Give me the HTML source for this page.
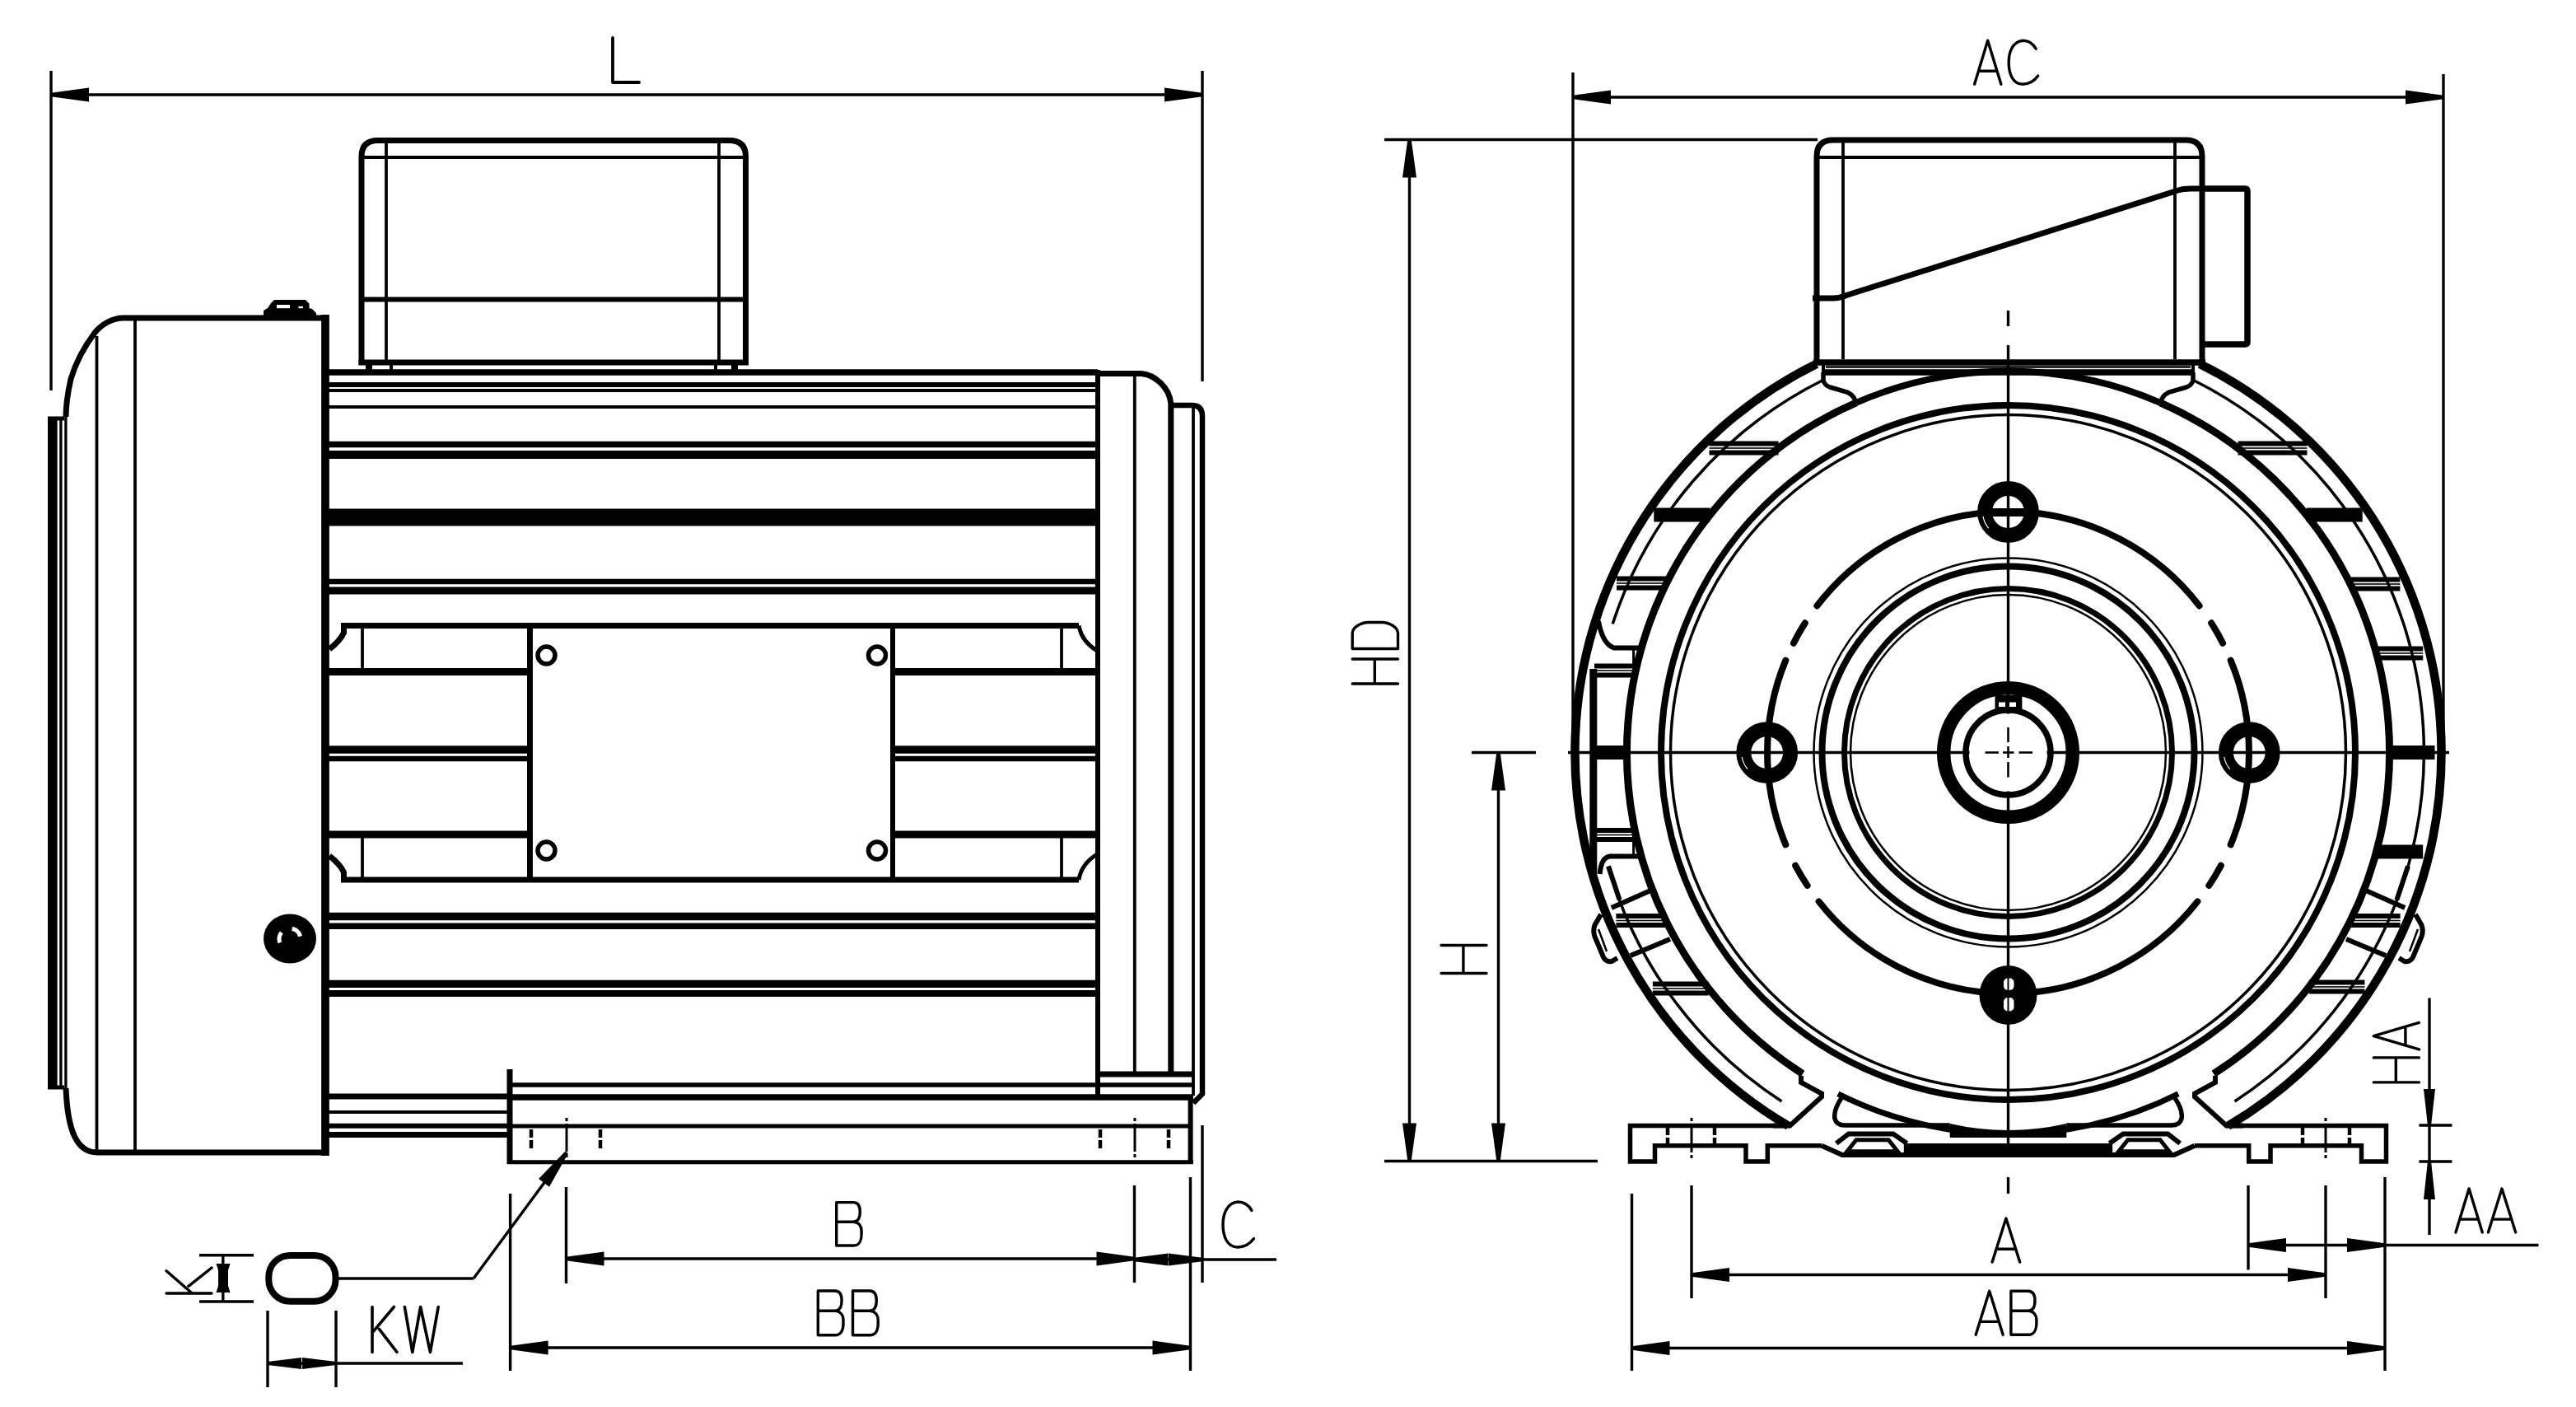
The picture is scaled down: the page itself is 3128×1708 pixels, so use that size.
<!DOCTYPE html>
<html><head><meta charset="utf-8"><style>
html,body{margin:0;padding:0;background:#fff;width:3128px;height:1708px;overflow:hidden;font-family:"Liberation Sans",sans-serif}
svg{display:block}
</style></head><body>
<svg width="3128" height="1708" viewBox="0 0 3128 1708" stroke="#000" fill="none"><line x1="62" y1="86" x2="62" y2="474" stroke-width="3.4"/>
<line x1="1460" y1="86" x2="1460" y2="463" stroke-width="3.4"/>
<line x1="62" y1="115" x2="1460" y2="115" stroke-width="3.4"/>
<path d="M62 112.8 L108 106.5 L108 123.5 L62 117.2 Z" fill="#000" stroke="none"/>
<path d="M1460 117.2 L1414 123.5 L1414 106.5 L1460 112.8 Z" fill="#000" stroke="none"/>
<g transform="translate(744 46)" stroke-width="3.8" fill="none" stroke-linejoin="round" stroke-linecap="round"><path transform="translate(0 0)" d="M0 0V54 H32"/></g>
<path d="M439 443 V190 Q439 170.5 459 170.5 H885.5 Q905.5 170.5 905.5 190 V443" stroke-width="7" fill="none"/>
<line x1="435.5" y1="440" x2="909" y2="440" stroke-width="7"/>
<line x1="469" y1="173" x2="469" y2="437" stroke-width="3.8"/>
<line x1="873" y1="173" x2="873" y2="437" stroke-width="3.8"/>
<line x1="439" y1="191" x2="905.5" y2="191" stroke-width="3.8"/>
<line x1="439" y1="363.5" x2="905.5" y2="363.5" stroke-width="6"/>
<rect x="444" y="443" width="8" height="7" stroke="none" fill="#000"/>
<rect x="473" y="443" width="4" height="7" stroke="none" fill="#000"/>
<rect x="867" y="443" width="4" height="7" stroke="none" fill="#000"/>
<rect x="888" y="443" width="8" height="7" stroke="none" fill="#000"/>
<path d="M395 386 H150 C136 386 123 394 115 404 C103 420 92 440 86 460 C82 478 80 495 80 506" stroke-width="7" fill="none"/>
<path d="M80 1321 C82 1370 92 1399 118 1399 H395" stroke-width="7" fill="none"/>
<line x1="395" y1="382" x2="395" y2="1403" stroke-width="9.7"/>
<line x1="58" y1="508" x2="78" y2="508" stroke-width="5"/>
<line x1="58" y1="1320" x2="78" y2="1320" stroke-width="5"/>
<line x1="63.8" y1="507" x2="63.8" y2="1321" stroke-width="11.6"/>
<line x1="73.9" y1="508" x2="73.9" y2="1320" stroke-width="3.3"/>
<line x1="79.9" y1="505" x2="79.9" y2="1322" stroke-width="3.3"/>
<line x1="117.5" y1="408" x2="117.5" y2="1396" stroke-width="3.8"/>
<line x1="164" y1="389" x2="164" y2="1396" stroke-width="3.8"/>
<path d="M320 389 V377 L325 374 L329 368 L333 364 H371 L375.5 368.6 V374 L379 375 L384 380 V389 Z" fill="#000" stroke="none"/>
<rect x="336" y="370" width="16" height="4.2" fill="#fff" stroke="none"/>
<rect x="362.4" y="371.9" width="5.6" height="2.3" fill="#fff" stroke="none"/>
<ellipse cx="352" cy="1139.5" rx="32" ry="30" fill="#000" stroke="none"/>
<path d="M339.8 1144.4 A13 13 0 0 1 341.8 1132" stroke="#fff" stroke-width="5" fill="none"/>
<path d="M354.7 1127.3 A13 13 0 0 1 364.6 1136.6" stroke="#fff" stroke-width="5" fill="none"/>
<line x1="397" y1="452" x2="1333" y2="452" stroke-width="7.5"/>
<line x1="397" y1="467" x2="1333" y2="467" stroke-width="6"/>
<line x1="397" y1="474" x2="1333" y2="474" stroke-width="4"/>
<line x1="397" y1="494" x2="1333" y2="494" stroke-width="4"/>
<line x1="397" y1="539.5" x2="1333" y2="539.5" stroke-width="7.5"/>
<line x1="397" y1="552" x2="1333" y2="552" stroke-width="10"/>
<line x1="397" y1="628" x2="1333" y2="628" stroke-width="21"/>
<line x1="397" y1="706" x2="1333" y2="706" stroke-width="6.5"/>
<line x1="397" y1="717" x2="1333" y2="717" stroke-width="9"/>
<line x1="397" y1="1112.5" x2="1333" y2="1112.5" stroke-width="9.7"/>
<line x1="397" y1="1124.2" x2="1333" y2="1124.2" stroke-width="7.4"/>
<line x1="397" y1="1194.4" x2="1333" y2="1194.4" stroke-width="9.2"/>
<line x1="397" y1="1206" x2="1333" y2="1206" stroke-width="7.8"/>
<line x1="397" y1="815.5" x2="643" y2="815.5" stroke-width="9"/>
<line x1="1084" y1="815.5" x2="1333" y2="815.5" stroke-width="9"/>
<line x1="397" y1="910" x2="643" y2="910" stroke-width="9.5"/>
<line x1="1084" y1="910" x2="1333" y2="910" stroke-width="9.5"/>
<line x1="397" y1="921" x2="643" y2="921" stroke-width="6.5"/>
<line x1="1084" y1="921" x2="1333" y2="921" stroke-width="6.5"/>
<line x1="397" y1="1013" x2="643" y2="1013" stroke-width="9"/>
<line x1="1084" y1="1013" x2="1333" y2="1013" stroke-width="9"/>
<line x1="619" y1="1317" x2="1449" y2="1317" stroke-width="5"/>
<line x1="619" y1="1332" x2="1449" y2="1332" stroke-width="7.5"/>
<line x1="397" y1="1331" x2="619" y2="1331" stroke-width="7"/>
<line x1="397" y1="1350" x2="619" y2="1350" stroke-width="4"/>
<line x1="397" y1="1366.7" x2="619" y2="1366.7" stroke-width="6"/>
<line x1="397" y1="1377.5" x2="619" y2="1377.5" stroke-width="7"/>
<path d="M400 788 Q413 778 417.5 768 V759.5 H1310" stroke-width="7" fill="none"/>
<path d="M1310 759.5 Q1313 778 1332 790" stroke-width="5" fill="none"/>
<path d="M400 1039 Q413 1049 417.5 1059 V1068 H1310" stroke-width="7" fill="none"/>
<path d="M1310 1068 Q1313 1049 1332 1037" stroke-width="5" fill="none"/>
<line x1="440" y1="762" x2="440" y2="811" stroke-width="3.8"/>
<line x1="440" y1="1016" x2="440" y2="1066" stroke-width="3.8"/>
<line x1="1289" y1="762" x2="1289" y2="811" stroke-width="3.8"/>
<line x1="1289" y1="1016" x2="1289" y2="1066" stroke-width="3.8"/>
<line x1="643.5" y1="756" x2="643.5" y2="1071" stroke-width="7"/>
<line x1="1084" y1="756" x2="1084" y2="1071" stroke-width="6"/>
<circle cx="663.5" cy="795.5" r="10.5" stroke-width="5.5" fill="none"/>
<circle cx="1065" cy="795.5" r="10.5" stroke-width="5.5" fill="none"/>
<circle cx="663.5" cy="1032.5" r="10.5" stroke-width="5.5" fill="none"/>
<circle cx="1065" cy="1032.5" r="10.5" stroke-width="5.5" fill="none"/>
<line x1="1333" y1="449" x2="1333" y2="1335" stroke-width="6"/>
<line x1="1377.8" y1="455" x2="1377.8" y2="1301" stroke-width="3.8"/>
<path d="M1333 453.5 H1386 C1402 455 1420 470 1421.8 490 V1304" stroke-width="7" fill="none"/>
<path d="M1421.8 492 H1447 Q1460 492 1460 505 V1328 L1449 1339" stroke-width="6.5" fill="none"/>
<line x1="1449" y1="494" x2="1449" y2="1330" stroke-width="3.8"/>
<line x1="1333" y1="1304" x2="1449" y2="1304" stroke-width="7"/>
<line x1="619" y1="1298" x2="619" y2="1413" stroke-width="7"/>
<line x1="619" y1="1317" x2="1449" y2="1317" stroke-width="5"/>
<line x1="619" y1="1367" x2="1445.6" y2="1367" stroke-width="5"/>
<line x1="616" y1="1410.7" x2="1448.8" y2="1410.7" stroke-width="5"/>
<line x1="1445.6" y1="1332" x2="1445.6" y2="1413" stroke-width="6"/>
<line x1="645" y1="1371" x2="645" y2="1381" stroke-width="4.5"/>
<line x1="645" y1="1384" x2="645" y2="1394" stroke-width="4.5"/>
<line x1="729" y1="1371" x2="729" y2="1381" stroke-width="4.5"/>
<line x1="729" y1="1384" x2="729" y2="1394" stroke-width="4.5"/>
<line x1="1336" y1="1371" x2="1336" y2="1381" stroke-width="4.5"/>
<line x1="1336" y1="1384" x2="1336" y2="1394" stroke-width="4.5"/>
<line x1="1419" y1="1371" x2="1419" y2="1381" stroke-width="4.5"/>
<line x1="1419" y1="1384" x2="1419" y2="1394" stroke-width="4.5"/>
<line x1="688" y1="1357" x2="688" y2="1361" stroke-width="3"/>
<line x1="688" y1="1364" x2="688" y2="1398" stroke-width="3"/>
<line x1="688" y1="1401" x2="688" y2="1405" stroke-width="3"/>
<line x1="1378" y1="1357" x2="1378" y2="1361" stroke-width="3"/>
<line x1="1378" y1="1364" x2="1378" y2="1398" stroke-width="3"/>
<line x1="1378" y1="1401" x2="1378" y2="1405" stroke-width="3"/>
<line x1="688" y1="1399" x2="575" y2="1552" stroke-width="3.4"/>
<path d="M689.8 1400.3 L667 1440.7 L654.1 1431.1 L686.2 1397.7 Z" fill="#000" stroke="none"/>
<line x1="410" y1="1552" x2="575" y2="1552" stroke-width="3.4"/>
<rect x="326.3" y="1523.9" width="81.2" height="55.8" stroke-width="8" fill="none" rx="26"/>
<line x1="242" y1="1523.7" x2="308" y2="1523.7" stroke-width="3.4"/>
<line x1="242" y1="1580" x2="308" y2="1580" stroke-width="3.4"/>
<line x1="270.8" y1="1523.7" x2="270.8" y2="1580" stroke-width="3.4"/>
<path d="M262.5 1534 H279.5 L277 1542 V1561 L279.5 1569 H262.5 L265 1561 V1542 Z" fill="#000" stroke="none"/>
<g transform="translate(202 1570) rotate(-90)" stroke-width="3.4" fill="none" stroke-linejoin="round" stroke-linecap="round"><path transform="translate(0 0)" d="M0 0 L0 55 M27.3 0 L0 31.3 M8.7 26.9 L31 55"/></g>
<line x1="325" y1="1591" x2="325" y2="1684" stroke-width="3.4"/>
<line x1="408" y1="1591" x2="408" y2="1684" stroke-width="3.4"/>
<line x1="325" y1="1655" x2="562" y2="1655" stroke-width="3.4"/>
<path d="M325 1652.9 L366 1648 L366 1662 L325 1657.1 Z" fill="#000" stroke="none"/>
<path d="M408 1657.1 L367 1662 L367 1648 L408 1652.9 Z" fill="#000" stroke="none"/>
<g transform="translate(452 1586.5)" stroke-width="3.6" fill="none" stroke-linejoin="round" stroke-linecap="round"><path transform="translate(0 0)" d="M0 0 L0 54.9 M26.4 0 L0 31.3 M8.4 26.9 L30 54.9"/><path transform="translate(39.4 0)" d="M0 0 L9.4 54.9 L19.2 0 L31 54.9 L40.8 0"/></g>
<line x1="619.6" y1="1449" x2="619.6" y2="1664" stroke-width="3.4"/>
<line x1="1445.5" y1="1429" x2="1445.5" y2="1664" stroke-width="3.4"/>
<line x1="619.6" y1="1636" x2="1445.5" y2="1636" stroke-width="3.4"/>
<path d="M619.6 1633.8 L665.6 1627.5 L665.6 1644.5 L619.6 1638.2 Z" fill="#000" stroke="none"/>
<path d="M1445.5 1638.2 L1399.5 1644.5 L1399.5 1627.5 L1445.5 1633.8 Z" fill="#000" stroke="none"/>
<g transform="translate(993.3 1567)" stroke-width="3.4" fill="none" stroke-linejoin="round" stroke-linecap="round"><path transform="translate(0 0)" d="M0 53.7 V0 H20.5 C26.7 0 28.8 4.3 28.8 11.8 C28.8 19.3 26.7 24.2 20.5 24.2 H0 M20.5 24.2 C27.9 24.7 30.7 30.1 30.7 35.4 V39.7 C30.7 47.3 27.9 53.7 21.1 53.7 H0"/><path transform="translate(42.2 0)" d="M0 53.7 V0 H20.5 C26.7 0 28.8 4.3 28.8 11.8 C28.8 19.3 26.7 24.2 20.5 24.2 H0 M20.5 24.2 C27.9 24.7 30.7 30.1 30.7 35.4 V39.7 C30.7 47.3 27.9 53.7 21.1 53.7 H0"/></g>
<line x1="687.5" y1="1441" x2="687.5" y2="1558" stroke-width="3.4"/>
<line x1="1377.5" y1="1439" x2="1377.5" y2="1557" stroke-width="3.4"/>
<line x1="687.5" y1="1528" x2="1377.5" y2="1528" stroke-width="3.4"/>
<path d="M687.5 1525.8 L733.5 1519.5 L733.5 1536.5 L687.5 1530.2 Z" fill="#000" stroke="none"/>
<path d="M1377.5 1530.2 L1331.5 1536.5 L1331.5 1519.5 L1377.5 1525.8 Z" fill="#000" stroke="none"/>
<g transform="translate(1015.7 1459.6)" stroke-width="3.4" fill="none" stroke-linejoin="round" stroke-linecap="round"><path transform="translate(0 0)" d="M0 52.4 V0 H20.3 C26.4 0 28.6 4.2 28.6 11.5 C28.6 18.9 26.4 23.6 20.3 23.6 H0 M20.3 23.6 C27.6 24.1 30.4 29.3 30.4 34.6 V38.8 C30.4 46.1 27.6 52.4 20.9 52.4 H0"/></g>
<line x1="1460" y1="1366" x2="1460" y2="1557" stroke-width="3.4"/>
<line x1="1377.5" y1="1529" x2="1550" y2="1529" stroke-width="3.4"/>
<path d="M1377.5 1526.8 L1418.5 1521.5 L1418.5 1536.5 L1377.5 1531.2 Z" fill="#000" stroke="none"/>
<path d="M1460 1531.2 L1419 1536.5 L1419 1521.5 L1460 1526.8 Z" fill="#000" stroke="none"/>
<g transform="translate(1485 1459)" stroke-width="3.4" fill="none" stroke-linejoin="round" stroke-linecap="round"><path transform="translate(0 0)" d="M34.9 10.4 C30 1.6 23.2 0 18 0 C4.5 1.1 0 15.4 0 27.5 C0 40.7 4.5 55 18 55 C24.8 55 31.5 52.8 37.5 44.6"/></g>
<line x1="1681" y1="169.5" x2="2207" y2="169.5" stroke-width="3.4"/>
<line x1="1681" y1="1409.5" x2="1940" y2="1409.5" stroke-width="3.4"/>
<line x1="1711.5" y1="169.5" x2="1711.5" y2="1409.5" stroke-width="3.4"/>
<path d="M1713.7 169.5 L1720 215.5 L1703 215.5 L1709.3 169.5 Z" fill="#000" stroke="none"/>
<path d="M1709.3 1409.5 L1703 1363.5 L1720 1363.5 L1713.7 1409.5 Z" fill="#000" stroke="none"/>
<g transform="translate(1642.2 830) rotate(-90)" stroke-width="3.4" fill="none" stroke-linejoin="round" stroke-linecap="round"><path transform="translate(0 0)" d="M0 0V55.3 M30 0V55.3 M0 27.1H30"/><path transform="translate(42.5 0)" d="M0 0V55.3 H18.9 C25.6 55.3 32 45.3 32 35.4 V19.9 C32 10 25.6 0 18.9 0 Z"/></g>
<line x1="1787" y1="913.5" x2="1865" y2="913.5" stroke-width="3.4"/>
<line x1="1819.5" y1="913.5" x2="1819.5" y2="1409.5" stroke-width="3.4"/>
<path d="M1821.7 913.5 L1828 959.5 L1811 959.5 L1817.3 913.5 Z" fill="#000" stroke="none"/>
<path d="M1817.3 1409.5 L1811 1363.5 L1828 1363.5 L1821.7 1409.5 Z" fill="#000" stroke="none"/>
<g transform="translate(1750 1181.5) rotate(-90)" stroke-width="3.4" fill="none" stroke-linejoin="round" stroke-linecap="round"><path transform="translate(0 0)" d="M0 0V55 M34 0V55 M0 26.9H34"/></g>
<line x1="1910" y1="88" x2="1910" y2="913" stroke-width="3.4"/>
<line x1="2967" y1="90" x2="2967" y2="913" stroke-width="3.4"/>
<line x1="1910" y1="118" x2="2967" y2="118" stroke-width="3.4"/>
<path d="M1910 115.8 L1956 109.5 L1956 126.5 L1910 120.2 Z" fill="#000" stroke="none"/>
<path d="M2967 120.2 L2921 126.5 L2921 109.5 L2967 115.8 Z" fill="#000" stroke="none"/>
<g transform="translate(2397.6 49.2)" stroke-width="3.4" fill="none" stroke-linejoin="round" stroke-linecap="round"><path transform="translate(0 0)" d="M0 53 L16.1 0 L32.3 53 M6.1 37.1 L26.2 37.1"/><path transform="translate(41.6 0)" d="M33 10.1 C28.4 1.6 22 0 17 0 C4.3 1.1 0 14.8 0 26.5 C0 39.2 4.3 53 17 53 C23.4 53 29.8 50.9 35.5 42.9"/></g>
<line x1="1904" y1="913.5" x2="2974" y2="913.5" stroke-width="3.4"/>
<line x1="2438.5" y1="377" x2="2438.5" y2="396" stroke-width="3.4"/>
<line x1="2438.5" y1="419" x2="2438.5" y2="1404" stroke-width="3.4"/>
<line x1="2438.5" y1="1429" x2="2438.5" y2="1449" stroke-width="3.4"/>
<path d="M2206 439 V190 Q2206 170 2226 170 H2654 Q2674 170 2674 190 V439" stroke-width="7" fill="none"/>
<line x1="2202" y1="440" x2="2678" y2="440" stroke-width="7.5"/>
<line x1="2238" y1="173" x2="2238" y2="436" stroke-width="3.8"/>
<line x1="2641" y1="173" x2="2641" y2="436" stroke-width="3.8"/>
<line x1="2206" y1="191" x2="2674" y2="191" stroke-width="3.8"/>
<path d="M2674 229 H2726 Q2729 229 2729 232 V415 Q2729 418 2726 418 H2674" stroke-width="7.5" fill="none"/>
<path d="M2201 362 H2226 Q2234 362 2242 358.5 L2645 231 Q2651 229 2660 229 H2674" stroke-width="7" fill="none"/>
<line x1="2214" y1="452" x2="2663" y2="452" stroke-width="7.5"/>
<line x1="2217" y1="445.5" x2="2660" y2="445.5" stroke-width="2.5"/>
<line x1="2214" y1="443" x2="2214" y2="452" stroke-width="4"/>
<line x1="2663" y1="443" x2="2663" y2="452" stroke-width="4"/>
<path d="M2171.5 1366.7 A526 526 0 0 1 2205.9 441.7" stroke-width="10.5" fill="none"/>
<path d="M2671.1 441.7 A526 526 0 0 1 2705.5 1366.7" stroke-width="10.5" fill="none"/>
<path d="M2163.5 1337 A505 505 0 0 1 1958.2 1069.6" stroke-width="3.5" fill="none"/>
<path d="M1958.2 757.4 A505 505 0 0 1 2214 461.2" stroke-width="3.5" fill="none"/>
<path d="M2663 461.2 A505 505 0 0 1 2713.5 1337" stroke-width="3.5" fill="none"/>
<path d="M2189 1303.6 A463 463 0 0 1 2253.9 488.9" stroke-width="9" fill="none"/>
<path d="M2623.1 488.9 A463 463 0 0 1 2688 1303.6" stroke-width="9" fill="none"/>
<path d="M2253.9 488.9 A463 463 0 0 1 2623.1 488.9" stroke-width="8" fill="none"/>
<path d="M2214 452 V462 Q2216 468 2222 470 L2243 476 Q2253 481 2253 489" stroke-width="5.5" fill="none"/>
<path d="M2663 452 V462 Q2661 468 2655 470 L2634 476 Q2624 481 2624 489" stroke-width="5.5" fill="none"/>
<circle cx="2438.5" cy="913.5" r="421.5" stroke-width="8" fill="none"/>
<circle cx="2438.5" cy="913.5" r="410" stroke-width="3.5" fill="none"/>
<rect x="2075.5" y="535.5" width="84" height="6" stroke="none" fill="#000"/>
<rect x="2075.5" y="546.5" width="84" height="6" stroke="none" fill="#000"/>
<rect x="2075.5" y="543.2" width="84" height="1.6" stroke="none" fill="#000"/>
<rect x="2008.3" y="616.5" width="68.1" height="17" stroke="none" fill="#000"/>
<rect x="1963" y="699.5" width="60.6" height="6" stroke="none" fill="#000"/>
<rect x="1963" y="710.5" width="60.6" height="6" stroke="none" fill="#000"/>
<rect x="1963" y="707.2" width="60.6" height="1.6" stroke="none" fill="#000"/>
<rect x="1962.4" y="1109" width="60.5" height="6" stroke="none" fill="#000"/>
<rect x="1962.4" y="1120" width="60.5" height="6" stroke="none" fill="#000"/>
<rect x="1962.4" y="1116.7" width="60.5" height="1.6" stroke="none" fill="#000"/>
<rect x="2006.9" y="1191.5" width="67.8" height="6" stroke="none" fill="#000"/>
<rect x="2006.9" y="1202.5" width="67.8" height="6" stroke="none" fill="#000"/>
<rect x="2006.9" y="1199.2" width="67.8" height="1.6" stroke="none" fill="#000"/>
<rect x="1936" y="805.5" width="50.3" height="6" stroke="none" fill="#000"/>
<rect x="1936" y="816.5" width="50.3" height="6" stroke="none" fill="#000"/>
<rect x="1936" y="813.2" width="50.3" height="1.6" stroke="none" fill="#000"/>
<rect x="1936" y="905" width="39.5" height="17" stroke="none" fill="#000"/>
<rect x="1936" y="1005" width="50.4" height="6" stroke="none" fill="#000"/>
<rect x="1936" y="1016" width="50.4" height="6" stroke="none" fill="#000"/>
<rect x="1936" y="1012.7" width="50.4" height="1.6" stroke="none" fill="#000"/>
<rect x="2717.5" y="535.5" width="84" height="6" stroke="none" fill="#000"/>
<rect x="2717.5" y="546.5" width="84" height="6" stroke="none" fill="#000"/>
<rect x="2717.5" y="543.2" width="84" height="1.6" stroke="none" fill="#000"/>
<rect x="2800.6" y="616.5" width="68.1" height="17" stroke="none" fill="#000"/>
<rect x="2853.9" y="700.5" width="60.5" height="6" stroke="none" fill="#000"/>
<rect x="2853.9" y="711.5" width="60.5" height="6" stroke="none" fill="#000"/>
<rect x="2853.9" y="708.2" width="60.5" height="1.6" stroke="none" fill="#000"/>
<rect x="2885.5" y="784.5" width="56.7" height="6" stroke="none" fill="#000"/>
<rect x="2885.5" y="795.5" width="56.7" height="6" stroke="none" fill="#000"/>
<rect x="2885.5" y="792.2" width="56.7" height="1.6" stroke="none" fill="#000"/>
<rect x="2901.5" y="905" width="55" height="17" stroke="none" fill="#000"/>
<rect x="2885.5" y="1025.5" width="56.7" height="17" stroke="none" fill="#000"/>
<rect x="2854.1" y="1109" width="60.5" height="6" stroke="none" fill="#000"/>
<rect x="2854.1" y="1120" width="60.5" height="6" stroke="none" fill="#000"/>
<rect x="2854.1" y="1116.7" width="60.5" height="1.6" stroke="none" fill="#000"/>
<rect x="2803.8" y="1189.5" width="67.6" height="6" stroke="none" fill="#000"/>
<rect x="2803.8" y="1200.5" width="67.6" height="6" stroke="none" fill="#000"/>
<rect x="2803.8" y="1197.2" width="67.6" height="1.6" stroke="none" fill="#000"/>
<line x1="1934.8" y1="812" x2="1934.8" y2="1061" stroke-width="9"/>
<path d="M1941 754 Q1946 782 1960 786.5 H1990" stroke-width="6" fill="none"/>
<line x1="1983.6" y1="786" x2="1983.6" y2="814" stroke-width="3"/>
<path d="M1942.7 1061 Q1944 1041 1955 1039.5 H1992" stroke-width="6" fill="none"/>
<line x1="1983.6" y1="1013" x2="1983.6" y2="1040" stroke-width="3"/>
<path d="M1953 1051.5 L1966.6 1092.4" stroke-width="6" fill="none"/>
<path d="M2924 1051.5 L2910.4 1092.4" stroke-width="6" fill="none"/>
<path d="M1956.8 1102 L2004.8 1080.8" stroke-width="6" fill="none"/>
<path d="M2920.2 1102 L2872.2 1080.8" stroke-width="6" fill="none"/>
<path d="M1980 1160 L2028 1140" stroke-width="6" fill="none"/>
<path d="M2897 1160 L2849 1140" stroke-width="6" fill="none"/>
<path d="M2003 1078 L1994 1044.4" stroke-width="4" fill="none"/>
<path d="M2874 1078 L2883 1044.4" stroke-width="4" fill="none"/>
<path d="M1944 1110 L1936.5 1123 Q1934 1130 1936.5 1137 L1947 1162 Q1950 1168 1957 1167 L1964 1163" stroke-width="6" fill="none"/>
<path d="M2933 1110 L2940.5 1123 Q2943 1130 2940.5 1137 L2930 1162 Q2927 1168 2920 1167 L2913 1163" stroke-width="6" fill="none"/>
<path d="M1941 1128 L1951 1155" stroke-width="2.5" fill="none"/>
<path d="M2936 1128 L2926 1155" stroke-width="2.5" fill="none"/>
<path d="M2206.4 735.4 A292.5 292.5 0 0 1 2670.6 735.4" stroke-width="8" fill="none" stroke-linecap="round"/>
<path d="M2177.9 780.7 A292.5 292.5 0 0 1 2191.8 756.3" stroke-width="8" fill="none" stroke-linecap="round"/>
<path d="M2685.2 756.3 A292.5 292.5 0 0 1 2699.1 780.7" stroke-width="8" fill="none" stroke-linecap="round"/>
<path d="M2168.3 1025.4 A292.5 292.5 0 0 1 2168.3 801.6" stroke-width="8" fill="none" stroke-linecap="round"/>
<path d="M2708.7 801.6 A292.5 292.5 0 0 1 2708.7 1025.4" stroke-width="8" fill="none" stroke-linecap="round"/>
<path d="M2194.6 1074.9 A292.5 292.5 0 0 1 2180.2 1050.8" stroke-width="8" fill="none" stroke-linecap="round"/>
<path d="M2696.8 1050.8 A292.5 292.5 0 0 1 2682.4 1074.9" stroke-width="8" fill="none" stroke-linecap="round"/>
<path d="M2668.4 1094.4 A292.5 292.5 0 0 1 2208.6 1094.4" stroke-width="8" fill="none" stroke-linecap="round"/>
<circle cx="2438.5" cy="621.5" r="28.4" stroke-width="18" fill="none"/>
<path d="M2414.8 641.4 A31 31 0 0 1 2408 626.9" stroke="#fff" stroke-width="1.2" fill="none"/>
<circle cx="2145.7" cy="913.6" r="28.4" stroke-width="18" fill="none"/>
<path d="M2122 933.5 A31 31 0 0 1 2115.2 919" stroke="#fff" stroke-width="1.2" fill="none"/>
<circle cx="2731.3" cy="913.6" r="28.4" stroke-width="18" fill="none"/>
<path d="M2707.6 933.5 A31 31 0 0 1 2700.8 919" stroke="#fff" stroke-width="1.2" fill="none"/>
<rect x="2418.5" y="617" width="40" height="10" stroke="none" fill="#000"/>
<ellipse cx="2438.5" cy="1208" rx="35" ry="36" fill="#000" stroke="none"/>
<rect x="2433" y="1187.5" width="12.5" height="14.5" rx="5" fill="#fff" stroke="none"/>
<rect x="2433" y="1211" width="12.5" height="16.5" rx="5" fill="#fff" stroke="none"/>
<line x1="2438.5" y1="1185" x2="2438.5" y2="1231" stroke-width="2"/>
<circle cx="2438.5" cy="913.5" r="236" stroke-width="2.5" fill="none"/>
<circle cx="2438.5" cy="913.5" r="226" stroke-width="8" fill="none"/>
<circle cx="2438.5" cy="913.5" r="199" stroke-width="7" fill="none"/>
<circle cx="2438.5" cy="913.5" r="191.5" stroke-width="2.5" fill="none"/>
<circle cx="2438.5" cy="913.5" r="78.3" stroke-width="16.5" fill="none"/>
<circle cx="2438.5" cy="913.5" r="51.5" stroke-width="7.5" fill="none"/>
<rect x="2422.5" y="844" width="32.9" height="18" stroke="none" fill="#000"/>
<rect x="2427" y="852.5" width="8" height="5.5" fill="#fff" stroke="none"/>
<rect x="2440" y="852.5" width="8" height="5.5" fill="#fff" stroke="none"/>
<circle cx="2438.5" cy="913.5" r="47" fill="#fff" stroke="none"/>
<line x1="2410.5" y1="913.5" x2="2427" y2="913.5" stroke-width="2.6"/>
<line x1="2432" y1="913.5" x2="2445.5" y2="913.5" stroke-width="2.6"/>
<line x1="2451.5" y1="913.5" x2="2468" y2="913.5" stroke-width="2.6"/>
<line x1="2438.5" y1="883" x2="2438.5" y2="901" stroke-width="2.6"/>
<line x1="2438.5" y1="906" x2="2438.5" y2="920" stroke-width="2.6"/>
<line x1="2438.5" y1="925" x2="2438.5" y2="943.5" stroke-width="2.6"/>
<path d="M2173.5 1366.5 L1979.5 1366.5 L1979.5 1410 L2009.5 1410 L2009.5 1390.7 L2120 1390.7 L2120 1410 L2146.3 1410 L2146.3 1390.7 L2212 1390.7" stroke-width="5.5" fill="none"/>
<path d="M2703.5 1366.5 L2897.5 1366.5 L2897.5 1410 L2867.5 1410 L2867.5 1390.7 L2757 1390.7 L2757 1410 L2730.7 1410 L2730.7 1390.7 L2665 1390.7" stroke-width="5.5" fill="none"/>
<path d="M2212 1390.7 L2237 1402 H2640 L2665 1390.7" stroke-width="6" fill="none"/>
<rect x="2311.8" y="1388" width="253.4" height="16.5" stroke="none" fill="#000"/>
<path d="M2229.8 1388 L2244.7 1376.4 L2298.8 1376.4 L2315.5 1388" stroke-width="6" fill="none"/>
<path d="M2647.2 1388 L2632.3 1376.4 L2578.2 1376.4 L2561.5 1388" stroke-width="6" fill="none"/>
<path d="M2242.9 1397.8 L2254 1383.8 L2293.2 1383.8 L2304.3 1397.8Z" stroke-width="5" fill="none"/>
<path d="M2634.1 1397.8 L2623 1383.8 L2583.8 1383.8 L2572.7 1397.8Z" stroke-width="5" fill="none"/>
<path d="M2367.7 1364 Q2438.5 1380 2509.3 1364 V1381 H2367.7 Z" stroke-width="0" fill="#000"/>
<path d="M2645.1 1327.9 A463 463 0 0 1 2231.9 1327.9" stroke-width="7" fill="none"/>
<path d="M2236 1333 Q2226 1348 2228 1358 Q2230 1366 2240 1366 H2367.7" stroke-width="5.5" fill="none"/>
<path d="M2641 1333 Q2651 1348 2649 1358 Q2647 1366 2637 1366 H2509.3" stroke-width="5.5" fill="none"/>
<path d="M2153 1366.5 L2173.5 1366.5 L2212 1331.5 L2212 1327.6 L2187 1314 L2187 1306" stroke-width="6" fill="none"/>
<path d="M2724 1366.5 L2703.5 1366.5 L2665 1331.5 L2665 1327.6 L2690 1314 L2690 1306" stroke-width="6" fill="none"/>
<line x1="2025" y1="1369" x2="2025" y2="1378" stroke-width="4.5"/>
<line x1="2025" y1="1381" x2="2025" y2="1389" stroke-width="4.5"/>
<line x1="2082" y1="1369" x2="2082" y2="1378" stroke-width="4.5"/>
<line x1="2082" y1="1381" x2="2082" y2="1389" stroke-width="4.5"/>
<line x1="2796" y1="1369" x2="2796" y2="1378" stroke-width="4.5"/>
<line x1="2796" y1="1381" x2="2796" y2="1389" stroke-width="4.5"/>
<line x1="2853" y1="1369" x2="2853" y2="1378" stroke-width="4.5"/>
<line x1="2853" y1="1381" x2="2853" y2="1389" stroke-width="4.5"/>
<line x1="2054" y1="1357" x2="2054" y2="1361" stroke-width="3"/>
<line x1="2054" y1="1364" x2="2054" y2="1399" stroke-width="3"/>
<line x1="2054" y1="1402" x2="2054" y2="1406" stroke-width="3"/>
<line x1="2824" y1="1357" x2="2824" y2="1361" stroke-width="3"/>
<line x1="2824" y1="1364" x2="2824" y2="1399" stroke-width="3"/>
<line x1="2824" y1="1402" x2="2824" y2="1406" stroke-width="3"/>
<line x1="1981.5" y1="1449" x2="1981.5" y2="1664" stroke-width="3.4"/>
<line x1="2896" y1="1429" x2="2896" y2="1664" stroke-width="3.4"/>
<line x1="1981.5" y1="1636.5" x2="2896" y2="1636.5" stroke-width="3.4"/>
<path d="M1981.5 1634.3 L2027.5 1628 L2027.5 1645 L1981.5 1638.7 Z" fill="#000" stroke="none"/>
<path d="M2896 1638.7 L2850 1645 L2850 1628 L2896 1634.3 Z" fill="#000" stroke="none"/>
<g transform="translate(2399.2 1567.3)" stroke-width="3.4" fill="none" stroke-linejoin="round" stroke-linecap="round"><path transform="translate(0 0)" d="M0 53 L16.5 0 L33 53 M6.3 37.1 L26.7 37.1"/><path transform="translate(42.7 0)" d="M0 53 V0 H20.7 C26.9 0 29.1 4.2 29.1 11.7 C29.1 19.1 26.9 23.9 20.7 23.9 H0 M20.7 23.9 C28.2 24.4 31 29.7 31 35 V39.2 C31 46.6 28.2 53 21.3 53 H0"/></g>
<line x1="2054" y1="1439" x2="2054" y2="1576" stroke-width="3.4"/>
<line x1="2824" y1="1439" x2="2824" y2="1576" stroke-width="3.4"/>
<line x1="2054" y1="1547.5" x2="2824" y2="1547.5" stroke-width="3.4"/>
<path d="M2054 1545.3 L2100 1539 L2100 1556 L2054 1549.7 Z" fill="#000" stroke="none"/>
<path d="M2824 1549.7 L2778 1556 L2778 1539 L2824 1545.3 Z" fill="#000" stroke="none"/>
<g transform="translate(2419.1 1479.1)" stroke-width="3.4" fill="none" stroke-linejoin="round" stroke-linecap="round"><path transform="translate(0 0)" d="M0 53 L16.8 0 L33.6 53 M6.4 37.1 L27.2 37.1"/></g>
<line x1="2730" y1="1439" x2="2730" y2="1541.5" stroke-width="3.4"/>
<line x1="2730" y1="1511.5" x2="3082.5" y2="1511.5" stroke-width="3.4"/>
<path d="M2730 1509.3 L2776 1503 L2776 1520 L2730 1513.7 Z" fill="#000" stroke="none"/>
<path d="M2896 1513.7 L2850 1520 L2850 1503 L2896 1509.3 Z" fill="#000" stroke="none"/>
<g transform="translate(2981.9 1443)" stroke-width="3.4" fill="none" stroke-linejoin="round" stroke-linecap="round"><path transform="translate(0 0)" d="M0 53 L16.2 0 L32.4 53 M6.2 37.1 L26.2 37.1"/><path transform="translate(39.5 0)" d="M0 53 L16.6 0 L33.3 53 M6.3 37.1 L27 37.1"/></g>
<line x1="2950" y1="1211.5" x2="2950" y2="1499" stroke-width="3.4"/>
<line x1="2937.5" y1="1366" x2="2977.5" y2="1366" stroke-width="3.4"/>
<line x1="2937.5" y1="1410" x2="2977.5" y2="1410" stroke-width="3.4"/>
<path d="M2947.9 1366 L2943 1322 L2957 1322 L2952.1 1366 Z" fill="#000" stroke="none"/>
<path d="M2952.1 1410 L2957 1456 L2943 1456 L2947.9 1410 Z" fill="#000" stroke="none"/>
<g transform="translate(2882.3 1313.9) rotate(-90)" stroke-width="3.4" fill="none" stroke-linejoin="round" stroke-linecap="round"><path transform="translate(0 0)" d="M0 0V55.2 M30 0V55.2 M0 27H30"/><path transform="translate(40 0)" d="M0 55.2 L16.2 0 L32.5 55.2 M6.2 38.6 L26.3 38.6"/></g></svg>
</body></html>
